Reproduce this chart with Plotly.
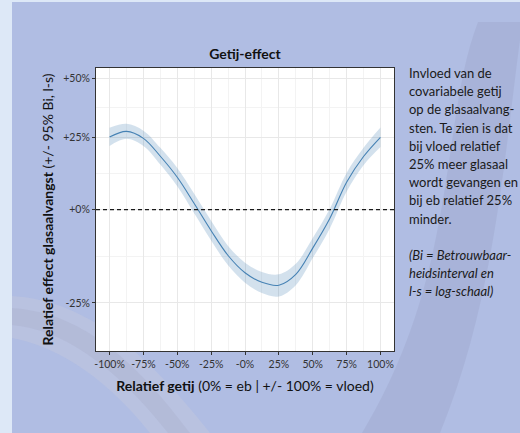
import plotly.graph_objects as go

# ---- data ----
getij_pct = [-100, -87.5, -75, -62.5, -50, -37.5, -25, -12.5, 0, 12.5, 25, 37.5, 50, 62.5, 75, 87.5, 100]
effect_pct = [25.1, 27.3, 24.6, 17.9, 10.5, 1.9, -6.3, -13.2, -17.7, -20.1, -20.8, -18.1, -11.2, -2.8, 8.8, 17.8, 25.0]
lower_pct = [21.7, 24.4, 21.7, 14.9, 7.5, -1.1, -9.1, -15.8, -20.2, -22.7, -23.5, -20.8, -13.9, -5.7, 5.7, 14.7, 21.3]
upper_pct = [28.7, 30.3, 27.6, 21.0, 13.7, 5.0, -3.4, -10.6, -15.1, -17.5, -18.1, -15.4, -8.4, 0.2, 12.0, 21.0, 28.8]

x_tickvals = [-100, -75, -50, -25, 0, 25, 50, 75, 100]
x_ticktext = ["-100%", "-75%", "-50%", "-25%", "-0%", "25%", "50%", "75%", "100%"]
y_tick_pct = [-25, 0, 25, 50]
y_ticktext = ["-25%", "+0%", "+25%", "+50%"]
y_minor_pct = [-13.4, 11.8, 36.9]

side_text = [
    "Invloed van de",
    "covariabele getij",
    "op de glasaalvang-",
    "sten. Te zien is dat",
    "bij vloed relatief",
    "25% meer glasaal",
    "wordt gevangen en",
    "bij eb relatief 25%",
    "minder.",
]
side_note = ["(Bi = Betrouwbaar-", "heidsinterval en", "l-s = log-schaal)"]

# ---- figure geometry ----
W, H = 520, 433
L, R, T, B = 96, 126, 68, 82
PW, PH = W - L - R, H - T - B


def px(x):
    return (x - L) / PW


def py(y):
    return (H - B - y) / PH


def ratio(vals):
    return [1 + v / 100 for v in vals]


FONT = "Lato"
fig = go.Figure()

fig.add_trace(go.Scatter(x=getij_pct, y=ratio(upper_pct), mode="lines",
                         line=dict(width=0, shape="spline", smoothing=1),
                         hoverinfo="skip", showlegend=False))
fig.add_trace(go.Scatter(x=getij_pct, y=ratio(lower_pct), mode="lines",
                         line=dict(width=0, shape="spline", smoothing=1),
                         fill="tonexty", fillcolor="rgba(70,130,180,0.24)",
                         hoverinfo="skip", showlegend=False))
fig.add_trace(go.Scatter(x=getij_pct, y=ratio(effect_pct), mode="lines",
                         line=dict(color="#4682b4", width=1.1, shape="spline", smoothing=1),
                         showlegend=False))

shapes = []
# left light strip and top strip
shapes.append(dict(type="rect", xref="paper", yref="paper", x0=px(0), x1=px(12), y0=py(H), y1=py(0),
                   fillcolor="#dde8f7", line_width=0, layer="below"))
shapes.append(dict(type="rect", xref="paper", yref="paper", x0=px(12), x1=px(W), y0=py(2), y1=py(0),
                   fillcolor="#dde8f7", line_width=0, layer="below"))


def path(pts_cmds):
    out = []
    for c in pts_cmds:
        if isinstance(c, str):
            out.append(c)
        else:
            out.append(f"{px(c[0]):.4f},{py(c[1]):.4f}")
    return " ".join(out)


# decorative swooshes
sw1 = path(["M", (12, 296), "C", (70, 300), (130, 330), (210, 433), "L", (150, 433),
            "C", (100, 370), (50, 345), (12, 338), "Z"])
shapes.append(dict(type="path", xref="paper", yref="paper", path=sw1,
                   fillcolor="rgba(205,205,220,0.30)", line_width=0, layer="below"))
sw1b = path(["M", (12, 308), "C", (70, 312), (125, 345), (190, 433), "L", (168, 433),
             "C", (110, 360), (60, 330), (12, 325), "Z"])
shapes.append(dict(type="path", xref="paper", yref="paper", path=sw1b,
                   fillcolor="rgba(150,150,175,0.15)", line_width=0, layer="below"))
sw2 = path(["M", (478, 22), "C", (440, 120), (460, 270), (362, 433), "L", (440, 433),
            "C", (495, 300), (505, 150), (520, 40), "L", (520, 22), "Z"])
shapes.append(dict(type="path", xref="paper", yref="paper", path=sw2,
                   fillcolor="rgba(125,128,160,0.15)", line_width=0, layer="below"))
# panel background
shapes.append(dict(type="rect", xref="paper", yref="paper", x0=0, x1=1, y0=0, y1=1,
                   fillcolor="white", line_width=0, layer="below"))
# dashed reference line at 0%
shapes.append(dict(type="line", xref="paper", yref="y", x0=0, x1=1, y0=1, y1=1,
                   line=dict(color="#1a1a1a", width=1.1, dash="4px,3px")))

annotations = []
for i, t in enumerate(side_text):
    annotations.append(dict(text=t, xref="paper", yref="paper", x=px(407), y=py(73 + i * 18.2),
                            xanchor="left", yanchor="middle", showarrow=False,
                            font=dict(family=FONT, size=13, color="#1a1a1a")))
for i, t in enumerate(side_note):
    annotations.append(dict(text=f"<i>{t}</i>", xref="paper", yref="paper", x=px(407), y=py(255 + i * 18),
                            xanchor="left", yanchor="middle", showarrow=False,
                            font=dict(family=FONT, size=13, color="#1a1a1a")))

fig.update_layout(
    width=W, height=H,
    margin=dict(l=L, r=R, t=T, b=B, pad=0),
    paper_bgcolor="#b0bde3",
    plot_bgcolor="white",
    font=dict(family=FONT, color="#1a1a1a"),
    title=dict(text="<b>Getij-effect</b>", x=px(245), xanchor="center", xref="paper",
               y=1 - 54 / H, yanchor="middle", font=dict(family=FONT, size=14, color="#111")),
    shapes=shapes,
    annotations=annotations,
    showlegend=False,
)

fig.update_xaxes(
    range=[-110, 110], tickvals=x_tickvals, ticktext=x_ticktext,
    ticks="outside", ticklen=3, tickcolor="#333", tickwidth=1,
    tickfont=dict(family=FONT, size=10.5, color="#333"),
    showgrid=True, gridcolor="#e8e8e8", gridwidth=1,
    minor=dict(tickmode="linear", tick0=-112.5, dtick=25, showgrid=True, gridcolor="#f3f3f3", gridwidth=1, ticks=""),
    showline=True, mirror=True, linecolor="#333", linewidth=1, zeroline=False,
    title=dict(text="<b>Relatief getij</b> (0% = eb | +/- 100% = vloed)", standoff=12,
               font=dict(family=FONT, size=14, color="#111")),
)
fig.update_yaxes(
    type="log", range=[-0.1895, 0.1898],
    tickvals=ratio(y_tick_pct), ticktext=y_ticktext,
    ticks="outside", ticklen=3, tickcolor="#333", tickwidth=1,
    tickfont=dict(family=FONT, size=10.5, color="#333"),
    showgrid=True, gridcolor="#e8e8e8", gridwidth=1,
    minor=dict(tickmode="array", tickvals=ratio(y_minor_pct), showgrid=True, gridcolor="#f3f3f3", gridwidth=1, ticks=""),
    showline=True, mirror=True, linecolor="#333", linewidth=1, zeroline=False,
    title=dict(text="<b>Relatief effect glasaalvangst</b> (+/- 95% Bi, l-s)", standoff=6,
               font=dict(family=FONT, size=14, color="#111")),
)

fig.write_html("out.html", config={"displayModeBar": False},
               post_script="document.body.style.margin='0';document.body.style.overflow='hidden';")
